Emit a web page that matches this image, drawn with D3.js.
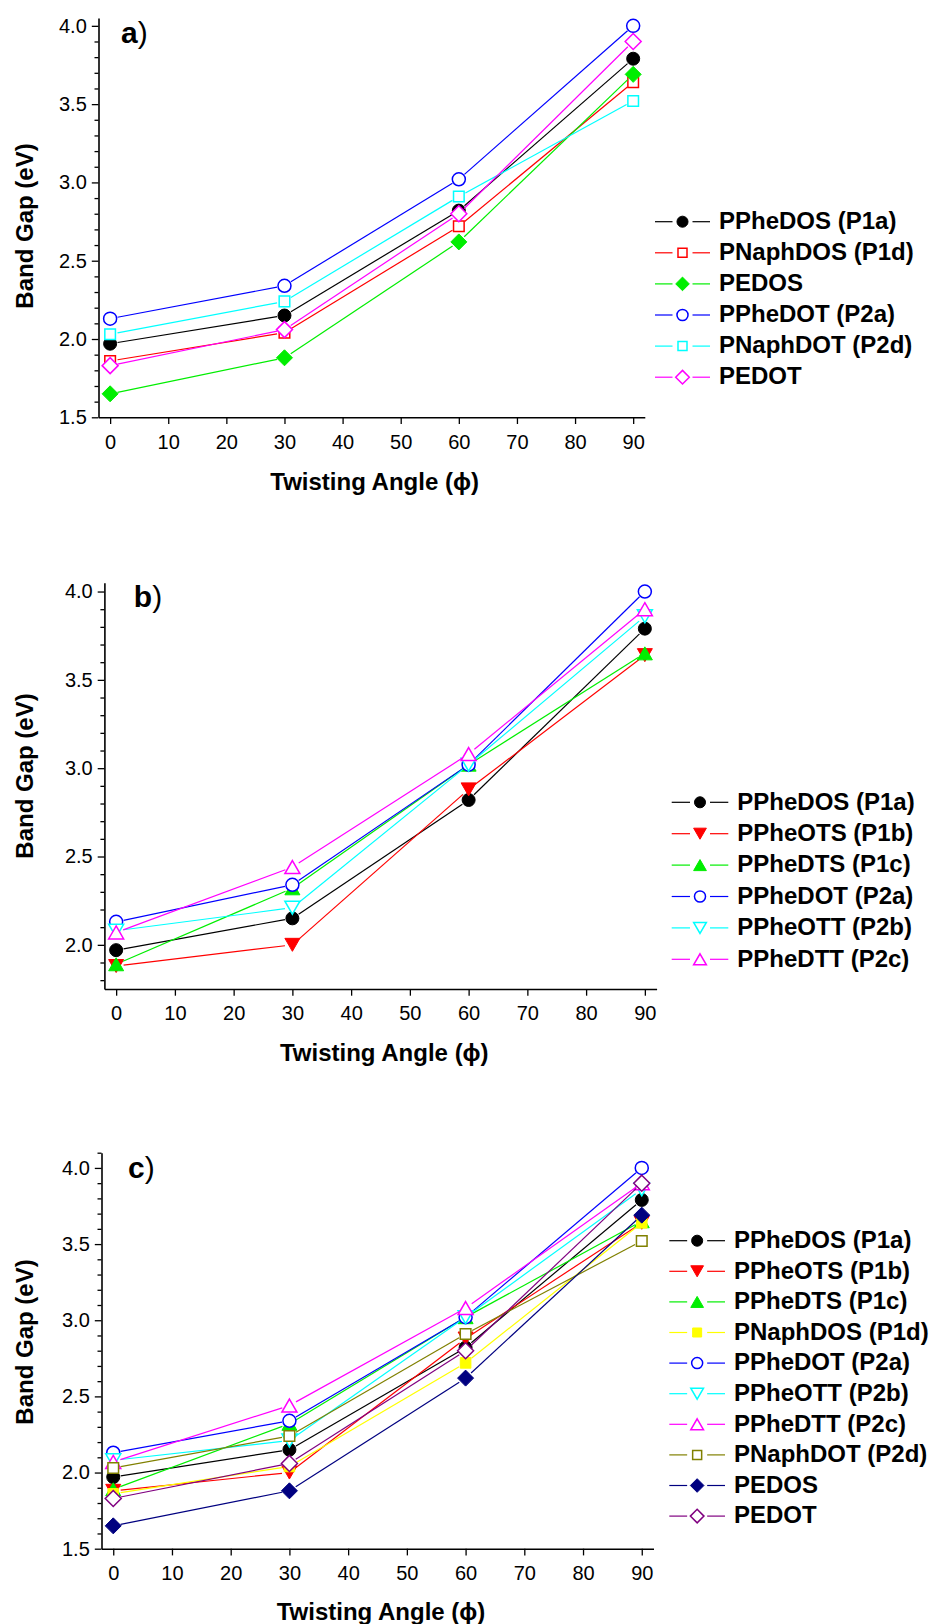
<!DOCTYPE html>
<html lang="en">
<head>
<meta charset="UTF-8">
<title>Band Gap vs Twisting Angle</title>
<script src="https://d3js.org/d3.v7.min.js"></script>
<style>
  body, html { margin: 0; padding: 0; background: #fff; }
  svg { display: block; }
  text { font-family: "Liberation Sans", Arial, sans-serif; fill: #000; }
</style>
</head>
<body>
<svg></svg>
<script>
  // twisting angles (deg)
  const angles = [0, 30, 60, 90];
  const xTickValues = [0, 10, 20, 30, 40, 50, 60, 70, 80, 90];
  const yTickValues = [1.5, 2.0, 2.5, 3.0, 3.5, 4.0];

  // band gaps (eV), one value per angle
  const PPheDOS  = [1.97, 2.15, 2.82, 3.79];
  const PPheOTS  = [1.88, 2.00, 2.88, 3.64];
  const PPheDTS  = [1.89, 2.32, 3.02, 3.65];
  const PNaphDOS = [1.86, 2.04, 2.72, 3.64];
  const PPheDOT  = [2.13, 2.34, 3.02, 4.00];
  const PPheOTT  = [2.08, 2.21, 3.02, 3.86];
  const PPheDTT  = [2.07, 2.44, 3.08, 3.90];
  const PNaphDOT = [2.03, 2.24, 2.91, 3.52];
  const PEDOS    = [1.65, 1.88, 2.62, 3.69];
  const PEDOT    = [1.83, 2.06, 2.80, 3.90];

  // legend labels per panel
  const labelsA = ["PPheDOS (P1a)", "PNaphDOS (P1d)", "PEDOS", "PPheDOT (P2a)", "PNaphDOT (P2d)", "PEDOT"];
  const labelsB = ["PPheDOS (P1a)", "PPheOTS (P1b)", "PPheDTS (P1c)", "PPheDOT (P2a)", "PPheOTT (P2b)", "PPheDTT (P2c)"];
  const labelsC = ["PPheDOS (P1a)", "PPheOTS (P1b)", "PPheDTS (P1c)", "PNaphDOS (P1d)", "PPheDOT (P2a)",
                   "PPheOTT (P2b)", "PPheDTT (P2c)", "PNaphDOT (P2d)", "PEDOS", "PEDOT"];

  // marker style: colour, shape, filled
  const style = (color, shape, filled) => ({ color, shape, filled });

  const panels = [
    {
      tag: "a", labels: labelsA,
      values: [PPheDOS, PNaphDOS, PEDOS, PPheDOT, PNaphDOT, PEDOT],
      styles: [style("#000000", "circle", true), style("#ff0000", "square", false), style("#00ee00", "diamond", true),
               style("#0000ff", "circle", false), style("#00ffff", "square", false), style("#ff00ff", "diamond", false)],
      left: 98.5, right: 644.8, top: 18, bottom: 417.3, yDomain: [1.5, 4.05],
      tagX: 121, tagY: 42.7, yTitleY: 226, xTitleX: 374.6, xTitleY: 490,
      legX: 655, legW: 55, legY: 221.7, legDy: 31.1
    },
    {
      tag: "b", labels: labelsB,
      values: [PPheDOS, PPheOTS, PPheDTS, PPheDOT, PPheOTT, PPheDTT],
      styles: [style("#000000", "circle", true), style("#ff0000", "down", true), style("#00ee00", "up", true),
               style("#0000ff", "circle", false), style("#00ffff", "down", false), style("#ff00ff", "up", false)],
      left: 104.4, right: 656.6, top: 582.7, bottom: 989, yDomain: [1.75, 4.05],
      tagX: 133.8, tagY: 607.3, yTitleY: 776, xTitleX: 384.3, xTitleY: 1060.7,
      legX: 671.7, legW: 56.6, legY: 802.3, legDy: 31.4
    },
    {
      tag: "c", labels: labelsC,
      values: [PPheDOS, PPheOTS, PPheDTS, PNaphDOS, PPheDOT, PPheOTT, PPheDTT, PNaphDOT, PEDOS, PEDOT],
      styles: [style("#000000", "circle", true), style("#ff0000", "down", true), style("#00ee00", "up", true),
               style("#ffff00", "square", true), style("#0000ff", "circle", false), style("#00ffff", "down", false),
               style("#ff00ff", "up", false), style("#808000", "square", false), style("#000080", "diamond", true),
               style("#800080", "diamond", false)],
      left: 101.5, right: 653.5, top: 1152.7, bottom: 1548.7, yDomain: [1.5, 4.1],
      tagX: 128, tagY: 1178.3, yTitleY: 1342, xTitleX: 381, xTitleY: 1620,
      legX: 669.3, legW: 55.7, legY: 1240.7, legDy: 30.6
    }
  ];

  const width = 939, height = 1624;
  const svg = d3.select("svg")
    .attr("width", width)
    .attr("height", height)
    .attr("viewBox", `0 0 ${width} ${height}`);

  svg.append("rect").attr("width", width).attr("height", height).attr("fill", "#fff");

  function shapePath(shape, k) {
    const r = 6.5 * k, h = 5.3 * k, d = 8 * k, tw = 7.5 * k, th = 6.5 * k;
    switch (shape) {
      case "circle":  return `M${r},0A${r},${r} 0 1,1 ${-r},0A${r},${r} 0 1,1 ${r},0Z`;
      case "square":  return `M${-h},${-h}H${h}V${h}H${-h}Z`;
      case "diamond": return `M0,${-d}L${d},0L0,${d}L${-d},0Z`;
      case "up":      return `M0,${-th}L${tw},${th}L${-tw},${th}Z`;
      case "down":    return `M0,${th}L${tw},${-th}L${-tw},${-th}Z`;
    }
  }

  function drawMarker(g, x, y, st, k) {
    g.append("path")
      .attr("d", shapePath(st.shape, k))
      .attr("transform", `translate(${x},${y})`)
      .attr("fill", st.filled ? st.color : "#fff")
      .attr("stroke", st.color)
      .attr("stroke-width", st.filled ? 1 : 1.5);
  }

  const gap = 7.5;

  panels.forEach(p => {
    const g = svg.append("g");

    const x = d3.scaleLinear().domain([-2, 92]).range([p.left, p.right]);
    const y = d3.scaleLinear().domain(p.yDomain).range([p.bottom, p.top]);

    // axes
    const majors = yTickValues.filter(v => v >= p.yDomain[0] && v <= p.yDomain[1]);
    const minors = d3.range(15, 42).map(v => v / 10)
      .filter(v => v >= p.yDomain[0] && v <= p.yDomain[1] + 1e-9 && !majors.some(m => Math.abs(m - v) < 1e-6));

    g.append("g")
      .attr("transform", `translate(${p.left},0)`)
      .call(d3.axisLeft(y).tickValues(majors).tickFormat(d3.format(".1f"))
        .tickSize(6.7).tickSizeOuter(0).tickPadding(5));
    g.append("g")
      .attr("transform", `translate(${p.left},0)`)
      .call(d3.axisLeft(y).tickValues(minors).tickFormat("").tickSize(4).tickSizeOuter(0))
      .call(s => s.select(".domain").remove());

    g.append("g")
      .attr("transform", `translate(0,${p.bottom})`)
      .call(d3.axisBottom(x).tickValues(xTickValues).tickFormat(d3.format("d"))
        .tickSize(6.7).tickSizeOuter(0).tickPadding(10.5));

    g.selectAll(".domain").attr("stroke", "#000").attr("stroke-width", 1.6);
    g.selectAll(".tick line").attr("stroke", "#000").attr("stroke-width", 1.3);
    g.selectAll(".tick text").attr("font-family", '"Liberation Sans", Arial, sans-serif')
      .attr("font-size", 20).attr("fill", "#000");

    // titles
    g.append("text")
      .attr("transform", `translate(33,${p.yTitleY}) rotate(-90)`)
      .attr("text-anchor", "middle")
      .attr("font-size", 24).attr("font-weight", "bold")
      .text("Band Gap (eV)");

    g.append("text")
      .attr("x", p.xTitleX).attr("y", p.xTitleY)
      .attr("text-anchor", "middle")
      .attr("font-size", 24).attr("font-weight", "bold")
      .text("Twisting Angle (\u03D5)");

    const tag = g.append("text")
      .attr("x", p.tagX).attr("y", p.tagY)
      .attr("font-size", 30).attr("font-weight", "bold")
      .text(p.tag);
    tag.append("tspan").attr("font-weight", "normal").text(")");

    // series: line segments with gaps around markers, then markers
    p.values.forEach((vals, i) => {
      const st = p.styles[i];
      const pts = vals.map((v, j) => [x(angles[j]), y(v)]);
      for (let j = 0; j < pts.length - 1; j++) {
        const [x1, y1] = pts[j], [x2, y2] = pts[j + 1];
        const len = Math.hypot(x2 - x1, y2 - y1);
        const ux = (x2 - x1) / len, uy = (y2 - y1) / len;
        g.append("line")
          .attr("x1", x1 + ux * gap).attr("y1", y1 + uy * gap)
          .attr("x2", x2 - ux * gap).attr("y2", y2 - uy * gap)
          .attr("stroke", st.color).attr("stroke-width", 1.2);
      }
      pts.forEach(([px, py]) => drawMarker(g, px, py, st, 1));
    });

    // legend
    const leg = g.append("g");
    p.labels.forEach((lab, i) => {
      const st = p.styles[i];
      const ly = p.legY + i * p.legDy;
      const mx = p.legX + p.legW / 2;
      leg.append("line").attr("x1", p.legX).attr("x2", mx - 10).attr("y1", ly).attr("y2", ly)
        .attr("stroke", st.color).attr("stroke-width", 1.2);
      leg.append("line").attr("x1", mx + 10).attr("x2", p.legX + p.legW).attr("y1", ly).attr("y2", ly)
        .attr("stroke", st.color).attr("stroke-width", 1.2);
      drawMarker(leg, mx, ly, st, 0.85);
      leg.append("text")
        .attr("x", p.legX + p.legW + 9).attr("y", ly).attr("dy", "0.3em")
        .attr("font-size", 24).attr("font-weight", "bold")
        .text(lab);
    });
  });
</script>
</body>
</html>
